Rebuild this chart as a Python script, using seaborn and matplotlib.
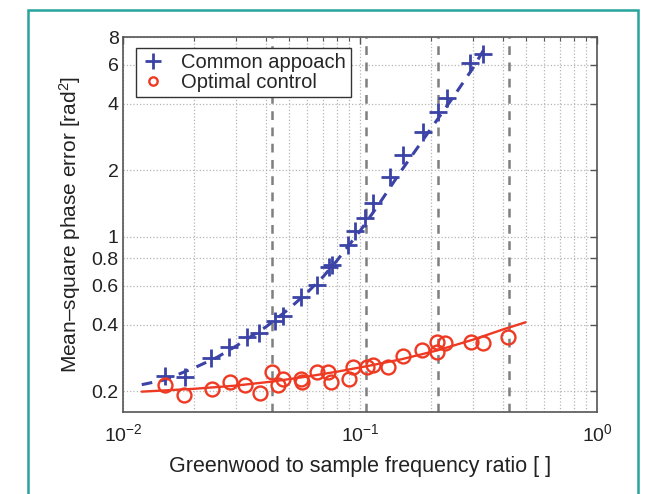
import matplotlib
matplotlib.use("Agg")
import matplotlib.pyplot as plt
import seaborn as sns
import pandas as pd
from matplotlib.patches import Rectangle
from matplotlib.ticker import FixedLocator, FixedFormatter, LogLocator, NullFormatter, NullLocator

# --- values ---
common_x = [0.0150, 0.0183, 0.0235, 0.0280, 0.0334, 0.0375, 0.0438, 0.0473, 0.0564,
            0.0659, 0.0740, 0.0762, 0.0890, 0.0953, 0.1050, 0.1135, 0.1339, 0.1518,
            0.1844, 0.2134, 0.2330, 0.2911, 0.3304]
common_y = [0.235, 0.233, 0.284, 0.318, 0.350, 0.368, 0.417, 0.439, 0.536,
            0.607, 0.732, 0.748, 0.921, 1.065, 1.220, 1.427, 1.870, 2.351,
            2.989, 3.682, 4.258, 6.134, 6.735]

optimal_x = [0.0150, 0.0181, 0.0237, 0.0283, 0.0327, 0.0379, 0.0425, 0.0451, 0.0473,
             0.0564, 0.0568, 0.0659, 0.0733, 0.0754, 0.0899, 0.0934, 0.1070, 0.1135,
             0.1313, 0.1518, 0.1827, 0.2113, 0.2113, 0.2284, 0.2940, 0.3304, 0.4212]
optimal_y = [0.214, 0.193, 0.205, 0.221, 0.214, 0.197, 0.245, 0.214, 0.228,
             0.228, 0.221, 0.243, 0.243, 0.221, 0.228, 0.256, 0.256, 0.264,
             0.256, 0.287, 0.308, 0.335, 0.302, 0.332, 0.335, 0.332, 0.350]

# fitted curves as they appear in the picture
common_fit_x = [0.012, 0.015, 0.020, 0.025, 0.030, 0.040, 0.050, 0.060, 0.070, 0.080,
                0.100, 0.120, 0.150, 0.200, 0.250, 0.300, 0.343]
common_fit_y = [0.214, 0.225, 0.255, 0.285, 0.320, 0.390, 0.470, 0.560, 0.660, 0.780,
                1.060, 1.400, 2.000, 3.100, 4.350, 5.800, 7.400]
optimal_fit_x = [0.012, 0.020, 0.030, 0.0425, 0.060, 0.080, 0.106, 0.150, 0.2125, 0.300, 0.400, 0.500]
optimal_fit_y = [0.199, 0.205, 0.212, 0.221, 0.233, 0.245, 0.259, 0.279, 0.306, 0.342, 0.380, 0.410]

marker_lines = [0.0425, 0.106, 0.2125, 0.425]

y_ticks = [0.2, 0.4, 0.6, 0.8, 1, 2, 4, 6, 8]
y_tick_labels = ["0.2", "0.4", "0.6", "0.8", "1", "2", "4", "6", "8"]
x_ticks = [0.01, 0.1, 1]
x_tick_labels = [r"$10^{-2}$", r"$10^{-1}$", r"$10^{0}$"]

blue = "#3b43a6"
red = "#ee3a22"
teal = "#26a39a"

sns.set_theme(style="white")
plt.rcParams["font.family"] = ["Liberation Sans", "DejaVu Sans"]
plt.rcParams["mathtext.fontset"] = "custom"
plt.rcParams["mathtext.rm"] = "Liberation Sans"
plt.rcParams["mathtext.it"] = "Liberation Sans:italic"

fig = plt.figure(figsize=(6.45, 4.94), dpi=100)
ax = fig.add_axes([123 / 645, 1 - 412 / 494, (597 - 123) / 645, (412 - 37) / 494])
ax.set_xscale("log")
ax.set_yscale("log")

# vertical reference lines
for xv in marker_lines:
    ax.axvline(xv, color="#7f7f7f", lw=1.8, ls=(0, (3.5, 3)), zorder=1)

fits = pd.DataFrame({"x": common_fit_x, "y": common_fit_y})
sns.lineplot(data=fits, x="x", y="y", color=blue, lw=2.2, ls=(0, (3.5, 2.8)),
             estimator=None, sort=False, ax=ax, zorder=3)
fits2 = pd.DataFrame({"x": optimal_fit_x, "y": optimal_fit_y})
sns.lineplot(data=fits2, x="x", y="y", color=red, lw=1.7,
             estimator=None, sort=False, ax=ax, zorder=3)

pts = pd.DataFrame({"x": common_x, "y": common_y})
sns.lineplot(data=pts, x="x", y="y", marker="+", ls="", color=blue, mec=blue, ms=13, mew=2,
             estimator=None, sort=False, ax=ax, label="Common appoach", zorder=4)
pts2 = pd.DataFrame({"x": optimal_x, "y": optimal_y})
sns.lineplot(data=pts2, x="x", y="y", marker="o", ls="", mfc="none", mec=red, color=red,
             ms=10, mew=1.7, estimator=None, sort=False, ax=ax, label="Optimal control", zorder=4)

ax.set_xlim(0.01, 1)
ax.set_ylim(0.161, 8)

ax.xaxis.set_major_locator(FixedLocator(x_ticks))
ax.xaxis.set_major_formatter(FixedFormatter(x_tick_labels))
ax.xaxis.set_minor_locator(LogLocator(base=10, subs=range(2, 10)))
ax.xaxis.set_minor_formatter(NullFormatter())
ax.yaxis.set_major_locator(FixedLocator(y_ticks))
ax.yaxis.set_major_formatter(FixedFormatter(y_tick_labels))
ax.yaxis.set_minor_locator(NullLocator())

ax.grid(True, which="major", axis="y", ls=":", color="#b5b5b5", lw=0.9)
ax.grid(True, which="both", axis="x", ls=":", color="#b5b5b5", lw=0.9)

ax.tick_params(which="both", direction="in", top=True, right=True, color="#555555",
               labelsize=14, labelcolor="#222222")
ax.tick_params(which="major", length=5, width=1)
ax.tick_params(which="minor", length=3, width=0.8)
ax.tick_params(axis="x", pad=8)
ax.tick_params(axis="y", pad=3)
for s in ax.spines.values():
    s.set_color("#555555")
    s.set_linewidth(1.2)

ax.set_xlabel("Greenwood to sample frequency ratio [ ]", fontsize=15.5, color="#222222", labelpad=8)
ax.set_ylabel("Mean\u2013square phase error [rad$^2$]", fontsize=15, color="#222222", labelpad=6)

leg = ax.legend(loc="upper left", bbox_to_anchor=(13 / 474, 1 - 11 / 375), borderaxespad=0,
                fontsize=14.5, frameon=True, fancybox=False, framealpha=1,
                edgecolor="#333333", handlelength=1.2, handletextpad=0.8,
                borderpad=0.25, labelspacing=0.05)
leg.get_frame().set_linewidth(1.0)
leg.legend_handles[0].set_markersize(11)
leg.legend_handles[1].set_markersize(6)

fig.patches.append(Rectangle((28 / 645, -0.05), (638 - 28) / 645, 1 - 10 / 494 + 0.05,
                             transform=fig.transFigure, fill=False, edgecolor=teal, lw=1.8))

fig.savefig("out.png", dpi=100)
